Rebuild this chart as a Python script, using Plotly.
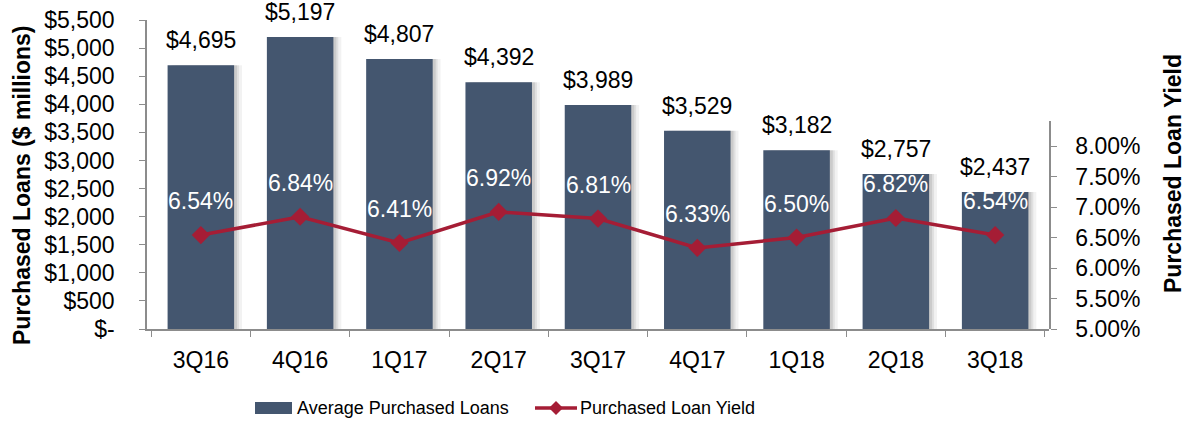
import plotly.graph_objects as go

categories = ["3Q16", "4Q16", "1Q17", "2Q17", "3Q17", "4Q17", "1Q18", "2Q18", "3Q18"]
avg_loans = [4695, 5197, 4807, 4392, 3989, 3529, 3182, 2757, 2437]
loan_yield = [6.54, 6.84, 6.41, 6.92, 6.81, 6.33, 6.50, 6.82, 6.54]

left_tickvals = [0, 500, 1000, 1500, 2000, 2500, 3000, 3500, 4000, 4500, 5000, 5500]
left_ticktext = ["$-", "$500", "$1,000", "$1,500", "$2,000", "$2,500", "$3,000",
                 "$3,500", "$4,000", "$4,500", "$5,000", "$5,500"]
right_tickvals = [5.0, 5.5, 6.0, 6.5, 7.0, 7.5, 8.0]
right_ticktext = ["5.00%", "5.50%", "6.00%", "6.50%", "7.00%", "7.50%", "8.00%"]

BAR = "#44566F"
LINE = "#A51D35"
AXIS = "#8C8C8C"
FONT = "Liberation Sans, Arial, sans-serif"

W, H = 1188, 423
L, R, T, B = 147, 1049, 20, 329
pw, ph = R - L, B - T


def px(x):
    return (x - L) / pw


def py(y):
    return (B - y) / ph


BAR_W = 0.67
cat_px = pw / len(categories)

fig = go.Figure()
# soft shadow behind bars
for shift, alpha in [(8, 0.05), (5, 0.07), (3, 0.09)]:
    fig.add_trace(go.Bar(
        x=categories, y=avg_loans, width=BAR_W, offset=-BAR_W / 2 + shift / cat_px,
        marker=dict(color=f"rgba(0,0,0,{alpha})", line=dict(width=0)),
        xaxis="x", yaxis="y", showlegend=False, hoverinfo="skip",
    ))
fig.add_trace(go.Bar(
    x=categories, y=avg_loans, name="Average Purchased Loans",
    marker=dict(color=BAR, line=dict(width=0)), width=BAR_W, offset=-BAR_W / 2,
    xaxis="x", yaxis="y", showlegend=False,
))
fig.add_trace(go.Scatter(
    x=categories, y=loan_yield, name="Purchased Loan Yield",
    mode="lines+markers", line=dict(color=LINE, width=3.5),
    marker=dict(symbol="diamond", size=14, color=LINE),
    xaxis="x", yaxis="y2", showlegend=False,
))

annotations = []
for c, v in zip(categories, avg_loans):
    annotations.append(dict(x=c, y=v, xref="x", yref="y", text=f"${v:,}",
                            showarrow=False, yanchor="middle", yshift=25,
                            font=dict(size=23, color="#000000", family=FONT)))
for c, v in zip(categories, loan_yield):
    annotations.append(dict(x=c, y=v, xref="x", yref="y2", text=f"{v:.2f}%",
                            showarrow=False, yanchor="middle", yshift=34,
                            font=dict(size=23, color="#FFFFFF", family=FONT)))

# axis titles
annotations.append(dict(x=px(22), y=py(185), xref="paper", yref="paper",
                        text="<b>Purchased Loans ($ millions)</b>", xanchor="center", yanchor="middle",
                        showarrow=False, textangle=-90, font=dict(size=23, color="#000000", family=FONT)))
annotations.append(dict(x=px(1173), y=py(174), xref="paper", yref="paper",
                        text="<b>Purchased Loan Yield</b>", xanchor="center", yanchor="middle",
                        showarrow=False, textangle=-90, font=dict(size=23, color="#000000", family=FONT)))

# custom legend
LEG_Y = 408
annotations.append(dict(x=px(295), y=py(LEG_Y), xref="paper", yref="paper", text="Average Purchased Loans",
                        xanchor="left", yanchor="middle", showarrow=False,
                        font=dict(size=18, color="#000000", family=FONT)))
annotations.append(dict(x=px(578), y=py(LEG_Y), xref="paper", yref="paper", text="Purchased Loan Yield",
                        xanchor="left", yanchor="middle", showarrow=False,
                        font=dict(size=18, color="#000000", family=FONT)))
shapes = [
    dict(type="rect", xref="paper", yref="paper", x0=px(255), x1=px(292), y0=py(414), y1=py(402),
         fillcolor=BAR, line=dict(width=0)),
    dict(type="line", xref="paper", yref="paper", x0=px(535), x1=px(577), y0=py(LEG_Y), y1=py(LEG_Y),
         line=dict(color=LINE, width=3.5)),
    dict(type="path", xref="paper", yref="paper",
         path=f"M {px(549)},{py(LEG_Y)} L {px(556)},{py(LEG_Y-7)} L {px(563)},{py(LEG_Y)} L {px(556)},{py(LEG_Y+7)} Z",
         fillcolor=LINE, line=dict(width=0)),
]

y2_top = 121
fig.update_layout(
    width=W, height=H,
    margin=dict(l=L, r=W - R, t=T, b=H - B, pad=0, autoexpand=False),
    paper_bgcolor="white", plot_bgcolor="rgba(0,0,0,0)",
    font=dict(family=FONT, size=22, color="#000000"),
    showlegend=False,
    barmode="overlay",
    annotations=annotations,
    shapes=shapes,
    xaxis=dict(type="category", showline=True, linecolor=AXIS, linewidth=1.5,
               ticks="outside", tickson="boundaries", ticklen=6, tickcolor=AXIS,
               tickfont=dict(size=23), showgrid=False, zeroline=False,
               anchor="y", ticklabelstandoff=10, automargin=False),
    yaxis=dict(range=[0, 5500], tickvals=left_tickvals, ticktext=left_ticktext,
               showline=True, linecolor=AXIS, linewidth=1.5, ticks="outside",
               ticklen=6, tickcolor=AXIS, tickfont=dict(size=23),
               showgrid=False, zeroline=False, domain=[0, 1],
               ticklabelstandoff=20, anchor="x", automargin=False,
               ticklabeloverflow="allow"),
    yaxis2=dict(range=[5.0, 8.41], tickvals=right_tickvals, ticktext=right_ticktext,
                side="right", anchor="x", domain=[0, (B - y2_top) / ph],
                showline=True, linecolor=AXIS, linewidth=1.5, ticks="outside",
                ticklen=6, tickcolor=AXIS, tickfont=dict(size=23),
                showgrid=False, zeroline=False, ticklabelstandoff=14, automargin=False),
)

fig.write_html("out.html", config={"displayModeBar": False},
               post_script="document.body.style.margin='0px';document.body.style.overflow='hidden';")
